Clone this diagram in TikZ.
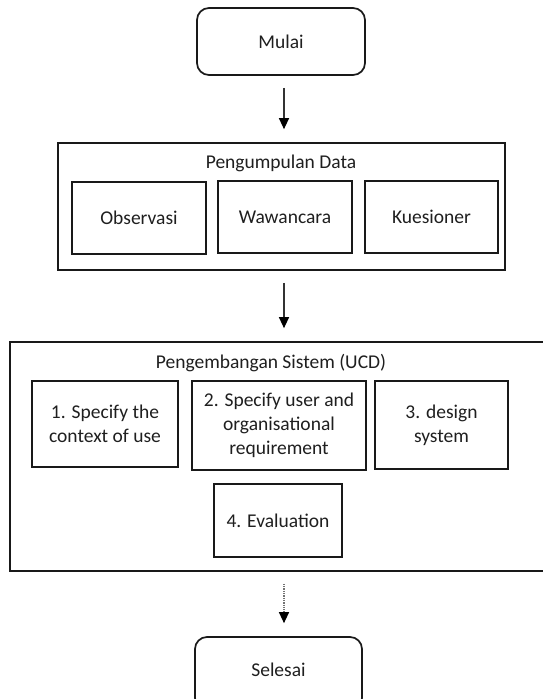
\documentclass[tikz,border=0pt]{standalone}
\usepackage{fontspec}
\setmainfont{Carlito}
\usetikzlibrary{arrows.meta}
\begin{document}
\begin{tikzpicture}[x=1pt,y=-1pt,
  box/.style={draw=black!90,line width=1.7pt,rectangle,inner sep=0pt,align=center,
    font=\fontsize{19.5}{24}\selectfont,text=black!88},
  rbox/.style={box,rounded corners=12pt},
  title/.style={inner sep=0pt,font=\fontsize{19.5}{24}\selectfont,text=black!88},
  arr/.style={draw=black!80,line width=1.3pt,-{Triangle[length=11pt,width=10pt,black]},shorten <=12pt,shorten >=13pt},
  darr/.style={arr,draw=black!55,densely dotted}]
\useasboundingbox (0,0) rectangle (543,699);
\clip (0,0) rectangle (543,699);
\fill[white] (0,0) rectangle (543,699);
% start
\node[rbox,minimum width=168pt,minimum height=67pt] (mulai) at (281,41.5) {Mulai};
% data collection
\node[box,minimum width=447pt,minimum height=127pt] (pd) at (281.5,206.5) {};
\node[title] (pdt) at (281,163) {Pengumpulan Data};
\node[box,minimum width=134pt,minimum height=72pt] (obs) at (139,218) {Observasi};
\node[box,minimum width=134pt,minimum height=72pt] (waw) at (285,217) {Wawancara};
\node[box,minimum width=133pt,minimum height=72pt] (kue) at (431.5,217) {Kuesioner};
% UCD
\node[box,minimum width=550pt,minimum height=229pt] (ucd) at (285,456.5) {};
\node[title] (ucdt) at (271,363) {Pengembangan Sistem (UCD)};
\node[box,minimum width=146pt,minimum height=86pt] (b1) at (105,424) {1. Specify the\\context of use};
\node[box,minimum width=174pt,minimum height=89pt] (b2) at (279,425.5) {2. Specify user and\\organisational\\requirement};
\node[box,minimum width=133pt,minimum height=88pt] (b3) at (441.5,425) {3. design\\system};
\node[box,minimum width=128pt,minimum height=73pt] (b4) at (278,520.5) {4. Evaluation};
% end
\node[rbox,minimum width=167pt,minimum height=73pt] (selesai) at (278.5,673.5) {};
\node[title] (selt) at (278.5,670) {Selesai};
% connectors
\draw[arr] ([xshift=3pt]mulai.south) -- ([xshift=3pt]mulai.south |- pd.north);
\draw[arr] ([xshift=2.5pt]pd.south) -- ([xshift=2.5pt]pd.south |- ucd.north);
\draw[darr] ([xshift=-1pt]ucd.south) -- ([xshift=-1pt]ucd.south |- selesai.north);
\end{tikzpicture}
\end{document}
